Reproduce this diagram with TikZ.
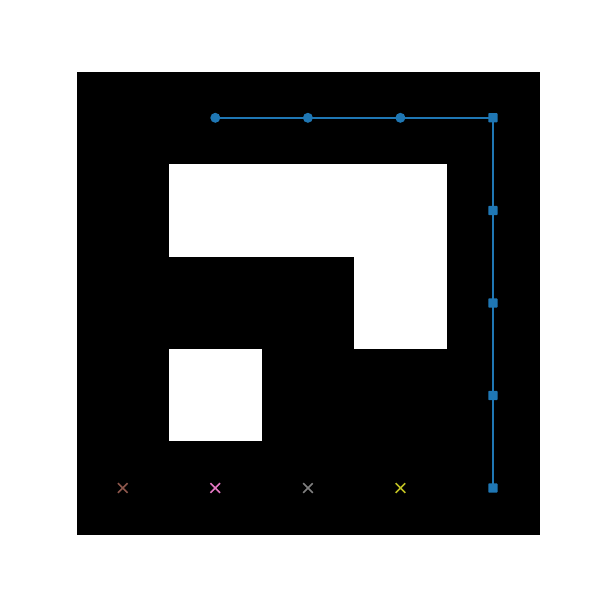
\documentclass[tikz,border=0pt]{standalone}
\usetikzlibrary{shapes.misc}
\definecolor{tabblue}{HTML}{1F77B4}
\definecolor{tabbrown}{HTML}{8C564B}
\definecolor{tabpink}{HTML}{E377C2}
\definecolor{tabgray}{HTML}{7F7F7F}
\definecolor{tabolive}{HTML}{BCBD22}
\tikzset{
  dotmark/.style={circle,fill=tabblue,inner sep=0pt,minimum size=0.25cm},
  sqmark/.style={rectangle,rounded corners=0.5pt,fill=tabblue,inner sep=0pt,minimum size=0.23cm},
  xmark/.style={cross out,draw=#1,line width=0.04cm,inner sep=0pt,minimum size=0.2cm},
  pathline/.style={draw=tabblue,line width=0.05cm},
  freecell/.style={fill=white}
}
\begin{document}
\begin{tikzpicture}[x=0.025cm,y=-0.025cm]
\useasboundingbox (0,0) rectangle (600,600);
\fill[white] (0,0) rectangle (600,600);
\fill[black] (77,72) rectangle (540,535);
\fill[freecell] (169.0,164.0) rectangle (446.6,256.6);
\fill[freecell] (354.0,256.6) rectangle (446.6,349.0);
\fill[freecell] (169.0,349.0) rectangle (261.6,441.4);
\draw[pathline] (215.3,117.8) -- (492.9,117.8) -- (492.9,488.0);
\node[dotmark] (c1) at (215.3,117.8) {};
\node[dotmark] (c2) at (307.9,117.8) {};
\node[dotmark] (c3) at (400.4,117.8) {};
\node[sqmark] (s1) at (492.9,117.8) {};
\node[sqmark] (s2) at (492.9,210.4) {};
\node[sqmark] (s3) at (492.9,302.9) {};
\node[sqmark] (s4) at (492.9,395.4) {};
\node[sqmark] (s5) at (492.9,488.0) {};
\node[xmark=tabbrown] (x1) at (122.8,488.0) {};
\node[xmark=tabpink] (x2) at (215.3,488.0) {};
\node[xmark=tabgray] (x3) at (307.9,488.0) {};
\node[xmark=tabolive] (x4) at (400.4,488.0) {};
\end{tikzpicture}
\end{document}
